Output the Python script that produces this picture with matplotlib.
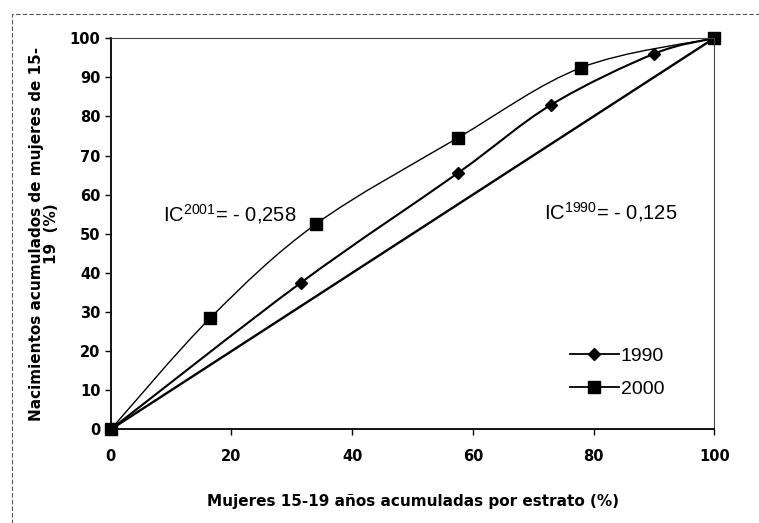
import numpy as np
import matplotlib.pyplot as plt
from matplotlib.path import Path
from matplotlib.patches import PathPatch, Rectangle
from matplotlib.lines import Line2D

plt.rcParams['mathtext.fontset'] = 'custom'
plt.rcParams['mathtext.rm'] = 'Liberation Sans'
plt.rcParams['mathtext.it'] = 'Liberation Sans:italic'
plt.rcParams['mathtext.bf'] = 'Liberation Sans:bold'

# datos
x_1990 = [0, 31.5, 57.5, 73, 90, 100]
y_1990 = [0, 37.5, 65.5, 83, 96, 100]
x_2000 = [0, 16.5, 34, 57.5, 78, 100]
y_2000 = [0, 28.5, 52.5, 74.5, 92.5, 100]
igualdad = [0, 100]

ticks = [0, 10, 20, 30, 40, 50, 60, 70, 80, 90, 100]
xticks = [0, 20, 40, 60, 80, 100]


def curva_suave(x, y):
    # linea suavizada tipo Excel (bezier por tramos)
    p = np.column_stack([x, y]).astype(float)
    n = len(p)
    verts = [p[0]]
    codes = [Path.MOVETO]
    for i in range(n - 1):
        p0 = p[i - 1] if i > 0 else p[i]
        p3 = p[i + 2] if i + 2 < n else p[i + 1]
        c1 = p[i] + (p[i + 1] - p0) / 6
        c2 = p[i + 1] - (p3 - p[i]) / 6
        verts += [c1, c2, p[i + 1]]
        codes += [Path.CURVE4] * 3
    return Path(verts, codes)


fig = plt.figure(figsize=(7.59, 5.23), dpi=100)
ax = fig.add_axes([0.146, 0.179, 0.795, 0.748])

ax.plot(igualdad, igualdad, color='black', lw=1.7, solid_capstyle='round')
ax.add_patch(PathPatch(curva_suave(x_1990, y_1990), fill=False, lw=1.5, color='black'))
ax.add_patch(PathPatch(curva_suave(x_2000, y_2000), fill=False, lw=1.0, color='black'))
ax.plot(x_1990, y_1990, 'D', color='black', ms=6, ls='none', clip_on=False)
ax.plot(x_2000, y_2000, 's', color='black', ms=8, ls='none', clip_on=False)

ax.set_xlim(0, 100)
ax.set_ylim(0, 100)
ax.set_xticks(xticks)
ax.set_yticks(ticks)
ax.tick_params(direction='out', length=4, width=1, labelsize=10.5)
for lab in ax.get_xticklabels() + ax.get_yticklabels():
    lab.set_fontweight('bold')
ax.tick_params(axis='x', pad=10)

for s in ['left', 'bottom']:
    ax.spines[s].set_linewidth(1.3)
for s in ['top', 'right']:
    ax.spines[s].set_linewidth(0.8)
    ax.spines[s].set_linestyle((0, (1.5, 1)))
    ax.spines[s].set_color('#444444')

ax.set_xlabel('Mujeres 15-19 años acumuladas por estrato (%)', fontsize=11,
              fontweight='bold', labelpad=22)
ax.set_ylabel('Nacimientos acumulados de mujeres de 15-\n19  (%)', fontsize=11,
              fontweight='bold', labelpad=8, linespacing=0.95)

ax.text(8.6, 55, r'IC$^{\mathrm{2001}}$= - 0,258', fontsize=14.5,
        family='Liberation Sans', va='center')
ax.text(71.8, 55.6, r'IC$^{\mathrm{1990}}$= - 0,125', fontsize=14.5,
        family='Liberation Sans', va='center')

handles = [Line2D([], [], color='black', lw=1.3, marker='D', ms=6),
           Line2D([], [], color='black', lw=1.3, marker='s', ms=8)]
ax.legend(handles, ['1990', '2000'], loc='lower left', bbox_to_anchor=(0.745, 0.055),
          frameon=False, handlelength=2.5, handletextpad=0.1, borderpad=0,
          labelspacing=0.8, prop={'family': 'Liberation Sans', 'size': 14})

fig.patches.append(Rectangle((12 / 759, -0.01), 1.0, 1 - 14 / 523 + 0.01,
                             transform=fig.transFigure, fill=False, lw=0.8,
                             ls=(0, (4, 2)), edgecolor='#555555'))

fig.savefig('out.png', dpi=100)
